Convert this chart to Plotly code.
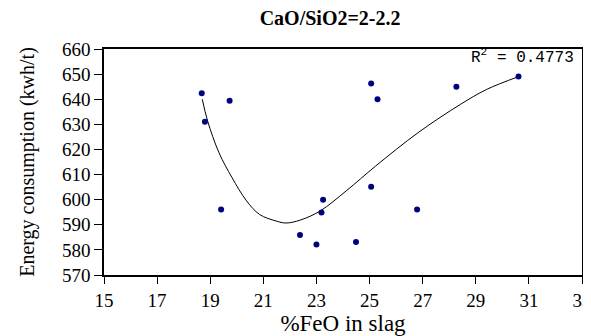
import plotly.graph_objects as go

feo = [18.68, 18.80, 19.73, 19.41, 22.38, 23.00, 23.19, 23.25, 24.49, 25.06, 26.79, 25.06, 25.30, 28.27, 30.61]
energy = [642.4, 631.0, 639.4, 596.1, 585.9, 582.1, 594.9, 600.0, 583.1, 605.1, 596.1, 646.3, 640.0, 645.0, 649.0]

# trendline
trend_x = [18.70, 18.90, 19.33, 19.82, 20.37, 20.86, 21.48, 21.85, 22.40, 23.14, 24.12, 25.23, 26.83, 28.43, 29.41, 30.61]
trend_y = [640.0, 631.4, 618.7, 608.8, 599.5, 594.1, 591.5, 590.7, 591.9, 595.5, 603.5, 613.4, 626.7, 638.0, 643.9, 649.0]

x_ticks = [15, 17, 19, 21, 23, 25, 27, 29, 31, 33]
x_labels = ["15", "17", "19", "21", "23", "25", "27", "29", "31", "33"]
y_ticks = [570, 580, 590, 600, 610, 620, 630, 640, 650, 660]
y_labels = ["570", "580", "590", "600", "610", "620", "630", "640", "650", "660"]

fig = go.Figure()
fig.add_trace(go.Scatter(x=trend_x, y=trend_y, mode="lines", line_shape="spline",
                         line=dict(color="black", width=1), hoverinfo="skip"))
fig.add_trace(go.Scatter(x=feo, y=energy, mode="markers",
                         marker=dict(symbol="circle", size=6, color="#000080")))

fig.add_annotation(x=1, y=1, xref="paper", yref="paper", xanchor="right", yanchor="top",
                   text="R<sup>2</sup> = 0.4773", showarrow=False, xshift=-6, yshift=5,
                   font=dict(family="Liberation Mono", size=16, color="black"))

serif = "Times New Roman"
fig.update_layout(
    width=591, height=336,
    margin=dict(l=96, r=7, t=41, b=69),
    paper_bgcolor="white", plot_bgcolor="white",
    showlegend=False,
    font=dict(family=serif, color="black", size=19),
    title=dict(text="<b>CaO/SiO2=2-2.2</b>", x=0.545, xanchor="center", y=0.99, yanchor="top",
               font=dict(family=serif, size=20, color="black")),
    xaxis=dict(range=[15, 33], tickmode="array", tickvals=x_ticks, ticktext=x_labels,
               ticks="outside", ticklen=7, tickcolor="black",
               showline=True, linecolor="black", linewidth=1.5, mirror=True, showgrid=False,
               zeroline=False, ticklabeloverflow="allow",
               tickfont=dict(family=serif, size=19, color="black"),
               title=dict(text="%FeO in slag", font=dict(family=serif, size=23, color="black"), standoff=0)),
    yaxis=dict(range=[570, 660], tickmode="array", tickvals=y_ticks, ticktext=y_labels,
               ticks="outside", ticklen=8, tickcolor="black",
               showline=True, linecolor="black", linewidth=1.5, mirror=True, showgrid=False,
               zeroline=False,
               tickfont=dict(family=serif, size=19, color="black"),
               title=dict(text="Energy consumption (kwh/t)", font=dict(family=serif, size=20, color="black"), standoff=22)),
)
fig.write_html("out.html")
